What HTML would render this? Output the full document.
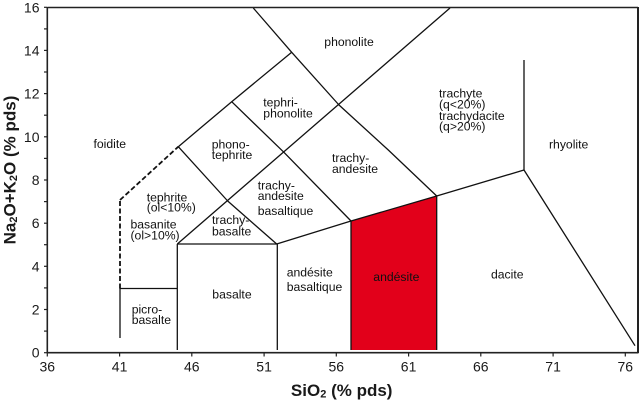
<!DOCTYPE html>
<html>
<head>
<meta charset="utf-8">
<style>
  html,body{margin:0;padding:0;background:#fff;}
  svg{display:block;}
  text{font-family:"Liberation Sans",Arial,sans-serif;fill:#111;}
  .lab{font-size:12.2px;}
  .tk{font-size:14px;fill:#1a1a1a;}
  .ttl{font-size:17px;font-weight:bold;fill:#1a1a1a;}
</style>
</head>
<body>
<svg width="640" height="403" viewBox="0 0 640 403" xmlns="http://www.w3.org/2000/svg">
  <!-- red andesite field -->
  <polygon points="351,221 436.7,196 436.7,350 351,350" fill="#e2001a"/>

  <g stroke="#111" stroke-width="1.3" fill="none" stroke-linejoin="round">
    <!-- line A -->
    <polyline points="253.3,8 291.7,52.3 339,105 388.3,150 436.7,196"/>
    <!-- line B -->
    <polyline points="177.3,244 450,8"/>
    <!-- upper-left boundary -->
    <polyline points="178.3,146.7 231.7,101.7 291.7,52.3"/>
    <!-- tephrite / phonotephrite -->
    <polyline points="178.3,146.7 227.7,201 276.7,244"/>
    <!-- phonotephrite / tephriphonolite -->
    <polyline points="231.7,101.7 284.3,152.7 351,221"/>
    <!-- bottom line -->
    <polyline points="177.3,244 276.7,244 351,221 436.7,196 524,170 635,345.7"/>
    <!-- rhyolite vertical -->
    <line x1="524" y1="60" x2="524" y2="170"/>
    <!-- picrobasalt -->
    <line x1="120" y1="288.5" x2="120" y2="338"/>
    <line x1="120" y1="288.5" x2="177.3" y2="288.5"/>
    <line x1="177.3" y1="244" x2="177.3" y2="350"/>
    <line x1="277.3" y1="244" x2="277.3" y2="350"/>
    <line x1="351" y1="221" x2="351" y2="350"/>
    <line x1="436.7" y1="196" x2="436.7" y2="350"/>
  </g>
  <!-- dashed foidite boundary -->
  <g stroke="#111" stroke-width="1.8" fill="none" stroke-dasharray="5 2.5">
    <line x1="120" y1="288.5" x2="120" y2="200"/>
    <line x1="120" y1="200" x2="178.3" y2="146.7"/>
  </g>

  <!-- frame -->
  <g stroke="#222" fill="none">
    <line x1="47.3" y1="7.5" x2="638" y2="7.5" stroke-width="1.6"/>
    <line x1="638" y1="7" x2="638" y2="353" stroke-width="2"/>
    <line x1="47.3" y1="7" x2="47.3" y2="353" stroke-width="1.6"/>
    <line x1="46.5" y1="352.7" x2="638.5" y2="352.7" stroke-width="1.6"/>
  </g>

  <!-- y ticks -->
  <g stroke="#222" stroke-width="1.2">
    <line x1="44" y1="352.7" x2="47" y2="352.7"/>
    <line x1="44" y1="331.1" x2="47" y2="331.1"/>
    <line x1="44" y1="309.5" x2="47" y2="309.5"/>
    <line x1="44" y1="287.9" x2="47" y2="287.9"/>
    <line x1="44" y1="266.3" x2="47" y2="266.3"/>
    <line x1="44" y1="244.7" x2="47" y2="244.7"/>
    <line x1="44" y1="223.2" x2="47" y2="223.2"/>
    <line x1="44" y1="201.6" x2="47" y2="201.6"/>
    <line x1="44" y1="180.0" x2="47" y2="180.0"/>
    <line x1="44" y1="158.4" x2="47" y2="158.4"/>
    <line x1="44" y1="136.8" x2="47" y2="136.8"/>
    <line x1="44" y1="115.2" x2="47" y2="115.2"/>
    <line x1="44" y1="93.6" x2="47" y2="93.6"/>
    <line x1="44" y1="72.0" x2="47" y2="72.0"/>
    <line x1="44" y1="50.4" x2="47" y2="50.4"/>
    <line x1="44" y1="28.9" x2="47" y2="28.9"/>
    <line x1="44" y1="7.3" x2="47" y2="7.3"/>
  </g>
  <!-- x ticks -->
  <g stroke="#222" stroke-width="1.2">
    <line x1="47.3" y1="352.7" x2="47.3" y2="356.5"/>
    <line x1="119.6" y1="352.7" x2="119.6" y2="356.5"/>
    <line x1="191.8" y1="352.7" x2="191.8" y2="356.5"/>
    <line x1="264.1" y1="352.7" x2="264.1" y2="356.5"/>
    <line x1="336.3" y1="352.7" x2="336.3" y2="356.5"/>
    <line x1="408.6" y1="352.7" x2="408.6" y2="356.5"/>
    <line x1="480.8" y1="352.7" x2="480.8" y2="356.5"/>
    <line x1="553.1" y1="352.7" x2="553.1" y2="356.5"/>
    <line x1="625.3" y1="352.7" x2="625.3" y2="356.5"/>
  </g>

  <!-- y tick labels -->
  <g class="tk" text-anchor="end">
    <text class="tk" x="39.5" y="357.7">0</text>
    <text class="tk" x="39.5" y="314.5">2</text>
    <text class="tk" x="39.5" y="271.3">4</text>
    <text class="tk" x="39.5" y="228.2">6</text>
    <text class="tk" x="39.5" y="185.0">8</text>
    <text class="tk" x="39.5" y="141.8">10</text>
    <text class="tk" x="39.5" y="98.6">12</text>
    <text class="tk" x="39.5" y="55.4">14</text>
    <text class="tk" x="39.5" y="12.3">16</text>
  </g>
  <!-- x tick labels -->
  <g text-anchor="middle">
    <text class="tk" x="47.3" y="371.5">36</text>
    <text class="tk" x="119.6" y="371.5">41</text>
    <text class="tk" x="191.8" y="371.5">46</text>
    <text class="tk" x="264.1" y="371.5">51</text>
    <text class="tk" x="336.3" y="371.5">56</text>
    <text class="tk" x="408.6" y="371.5">61</text>
    <text class="tk" x="480.8" y="371.5">66</text>
    <text class="tk" x="553.1" y="371.5">71</text>
    <text class="tk" x="625.3" y="371.5">76</text>
  </g>

  <!-- axis titles -->
  <text class="ttl" x="341.7" y="396" text-anchor="middle">SiO<tspan font-size="11" dy="1.5">2</tspan><tspan dy="-1.5"> (% pds)</tspan></text>
  <text class="ttl" transform="translate(15.5,170) rotate(-90)" text-anchor="middle">Na<tspan font-size="11" dy="1.5">2</tspan><tspan dy="-1.5">O+K</tspan><tspan font-size="11" dy="1.5">2</tspan><tspan dy="-1.5">O (% pds)</tspan></text>

  <!-- field labels -->
  <text class="lab" x="93.5" y="148">foidite</text>
  <text class="lab" x="324.3" y="46">phonolite</text>
  <text class="lab" x="263.3" y="106.5">tephri-</text>
  <text class="lab" x="263.3" y="117.3">phonolite</text>
  <text class="lab" x="211.7" y="148.5">phono-</text>
  <text class="lab" x="211.7" y="159">tephrite</text>
  <text class="lab" x="332" y="162">trachy-</text>
  <text class="lab" x="332" y="173">andesite</text>
  <text class="lab" x="257.7" y="189.3">trachy-</text>
  <text class="lab" x="257.7" y="200.2">andesite</text>
  <text class="lab" x="257.7" y="215">basaltique</text>
  <text class="lab" x="212" y="224">trachy-</text>
  <text class="lab" x="212" y="235.5">basalte</text>
  <text class="lab" x="146.7" y="201.5">tephrite</text>
  <text class="lab" x="146.7" y="211.5">(ol&lt;10%)</text>
  <text class="lab" x="130.5" y="228.5">basanite</text>
  <text class="lab" x="130.5" y="239.5">(ol&gt;10%)</text>
  <text class="lab" x="131.7" y="313.3">picro-</text>
  <text class="lab" x="131.7" y="324">basalte</text>
  <text class="lab" x="212.3" y="298.3">basalte</text>
  <text class="lab" x="286.7" y="276.7">andésite</text>
  <text class="lab" x="286.7" y="291">basaltique</text>
  <text class="lab" x="373.3" y="281" fill="#2a0000">andésite</text>
  <text class="lab" x="491" y="278.3">dacite</text>
  <text class="lab" x="549" y="148.7">rhyolite</text>
  <text class="lab" x="439" y="97.3">trachyte</text>
  <text class="lab" x="439" y="108.3">(q&lt;20%)</text>
  <text class="lab" x="439" y="120">trachydacite</text>
  <text class="lab" x="439" y="130.5">(q&gt;20%)</text>
</svg>
</body>
</html>
